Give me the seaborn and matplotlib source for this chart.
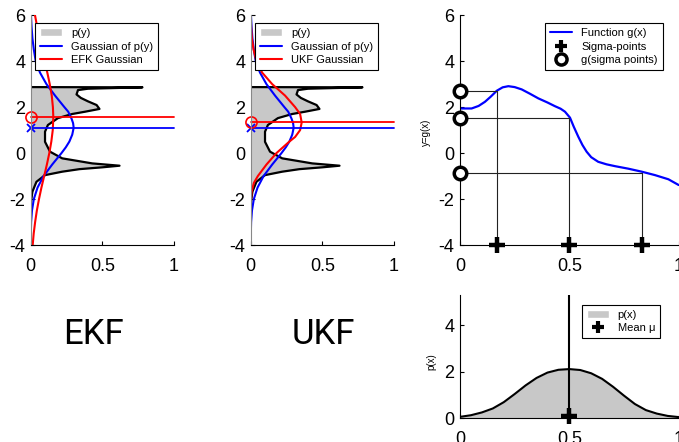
import numpy as np
import pandas as pd
import matplotlib
matplotlib.use('Agg')
import matplotlib.pyplot as plt
import seaborn as sns
from matplotlib.lines import Line2D
from matplotlib.patches import Patch

# p(y): density of y = g(x), outline (y, density)
py_y = [2.87, 2.86, 2.80, 2.74, 2.55, 2.40, 2.25, 2.09, 1.92, 1.80, 1.70, 1.52, 1.22,
        0.93, 0.49, 0.06, -0.23, -0.45, -0.55, -0.62, -0.70, -0.81, -0.96, -1.25,
        -1.68, -2.00, -2.30]
py_dens = [0.0, 0.78, 0.40, 0.33, 0.32, 0.35, 0.40, 0.46, 0.48, 0.38, 0.29, 0.19, 0.12,
           0.10, 0.10, 0.135, 0.22, 0.43, 0.62, 0.50, 0.34, 0.22, 0.10, 0.04,
           0.012, 0.005, 0.0]

# Gaussian fitted to p(y) (blue)
gauss_mean = 1.1
gauss_y = [6.0, 5.5, 5.0, 4.5, 4.0, 3.5, 3.0, 2.5, 2.0, 1.8, 1.5, 1.3, 1.1, 0.8, 0.5,
           0.25, 0.0, -0.5, -1.0, -1.5, -2.0, -2.5, -3.0, -3.5, -4.0]
gauss_dens = [0.002, 0.006, 0.012, 0.022, 0.035, 0.065, 0.11, 0.17, 0.235, 0.262, 0.285,
              0.296, 0.30, 0.29, 0.27, 0.245, 0.215, 0.15, 0.09, 0.048, 0.022, 0.009,
              0.003, 0.001, 0.0]

# EKF Gaussian (red, left panel)
ekf_mean = 1.55
ekf_y = [6.0, 5.5, 5.0, 4.5, 4.0, 3.5, 3.0, 2.5, 2.0, 1.55, 1.0, 0.5, 0.0, -0.5, -1.0,
         -1.5, -2.0, -2.5, -3.0, -3.5, -4.0]
ekf_dens = [0.030, 0.045, 0.060, 0.078, 0.097, 0.116, 0.133, 0.147, 0.155, 0.158, 0.154,
            0.144, 0.130, 0.113, 0.094, 0.075, 0.058, 0.043, 0.031, 0.021, 0.014]

# UKF Gaussian (red, middle panel)
ukf_mean = 1.33
ukf_y = [6.0, 5.5, 5.0, 4.5, 4.0, 3.5, 3.0, 2.5, 2.0, 1.7, 1.33, 1.0, 0.7, 0.5, 0.25,
         0.0, -0.5, -1.0, -1.3, -1.7, -2.2, -3.0, -4.0]
ukf_dens = [0.0, 0.003, 0.008, 0.02, 0.04, 0.08, 0.15, 0.24, 0.31, 0.345, 0.356, 0.345,
            0.31, 0.27, 0.225, 0.18, 0.11, 0.05, 0.022, 0.006, 0.001, 0.0, 0.0]

# non-linear function g(x)
g_x = [0.0, 0.053, 0.085, 0.114, 0.14, 0.168, 0.195, 0.221, 0.25, 0.282, 0.32, 0.358,
       0.40, 0.434, 0.46, 0.48, 0.503, 0.52, 0.541, 0.56, 0.579, 0.60, 0.632, 0.67,
       0.709, 0.77, 0.831, 0.892, 0.953, 1.0]
g_y = [1.94, 1.94, 2.05, 2.23, 2.45, 2.71, 2.86, 2.91, 2.87, 2.77, 2.58, 2.38, 2.20,
       2.04, 1.93, 1.80, 1.54, 1.15, 0.71, 0.35, 0.06, -0.18, -0.38, -0.49, -0.57,
       -0.68, -0.81, -0.96, -1.14, -1.39]

sigma_x = [0.171, 0.5, 0.834]
sigma_g = [2.71, 1.52, -0.86]

# p(x)
mean_x = 0.5
px_x = [0.0, 0.05, 0.1, 0.15, 0.2, 0.25, 0.3, 0.35, 0.4, 0.45, 0.5, 0.55, 0.6, 0.65,
        0.7, 0.75, 0.8, 0.85, 0.9, 0.95, 1.0]
px_dens = [0.07, 0.14, 0.26, 0.43, 0.70, 1.05, 1.42, 1.74, 1.97, 2.09, 2.12, 2.08, 1.94,
           1.70, 1.36, 0.98, 0.62, 0.36, 0.21, 0.11, 0.06]

ticks_y = [-4, -2, 0, 2, 4, 6]
ticks_x = [0, 0.5, 1]
tick_lbl_x = ['0', '0.5', '1']

sns.set_style('ticks')
plt.rcParams['font.family'] = ['Liberation Sans', 'DejaVu Sans']
plt.rcParams['axes.unicode_minus'] = False
plt.rcParams['text.color'] = 'black'
plt.rcParams['axes.edgecolor'] = 'black'
plt.rcParams['xtick.color'] = 'black'
plt.rcParams['ytick.color'] = 'black'
plt.rcParams['axes.labelcolor'] = 'black'

fill_col = '#c8c8c8'

fig = plt.figure(figsize=(6.79, 4.42), dpi=100)
ax1 = fig.add_axes([0.0452, 0.4457, 0.211, 0.520])
ax2 = fig.add_axes([0.3692, 0.4457, 0.211, 0.520])
ax3 = fig.add_axes([0.6775, 0.4457, 0.322, 0.520])
ax4 = fig.add_axes([0.6775, 0.0532, 0.322, 0.2794])


def style_axes(ax, ylim, yticks):
    ax.set_xlim(0, 1)
    ax.set_ylim(*ylim)
    ax.set_xticks(ticks_x)
    ax.set_xticklabels(tick_lbl_x)
    ax.set_yticks(yticks)
    ax.set_yticklabels([str(t) for t in yticks])
    ax.tick_params(direction='in', length=3, width=0.8, labelsize=13, pad=4)
    ax.tick_params(axis='x', pad=9)
    sns.despine(ax=ax)
    ax.spines['left'].set_linewidth(0.8)
    ax.spines['bottom'].set_linewidth(0.8)
    ax.set_xlabel('')
    ax.set_ylabel('')


def leg(ax, handles, anchor):
    lg = ax.legend(handles=handles, loc='upper left', bbox_to_anchor=anchor,
                   fontsize=8, fancybox=False, framealpha=1, edgecolor='black',
                   borderpad=0.45, labelspacing=0.3, handletextpad=0.8,
                   borderaxespad=0, handlelength=2.0)
    lg.get_frame().set_linewidth(0.8)


def py_panel(ax, f_y, f_dens, f_mean, f_label):
    ax.fill_betweenx(py_y, 0, py_dens, color=fill_col, lw=0)
    sns.lineplot(x=py_dens, y=py_y, sort=False, estimator=None, color='black', lw=1.6, ax=ax)
    sns.lineplot(x=gauss_dens, y=gauss_y, sort=False, estimator=None, color='blue', lw=1.5, ax=ax)
    sns.lineplot(x=f_dens, y=f_y, sort=False, estimator=None, color='red', lw=1.5, ax=ax)
    ax.axhline(gauss_mean, color='blue', lw=1.3, clip_on=False)
    ax.axhline(f_mean, color='red', lw=1.3, clip_on=False)
    ax.plot([0], [gauss_mean], marker='x', color='blue', ms=6, mew=1.3, clip_on=False)
    ax.plot([0], [f_mean], marker='o', mfc='none', mec='red', ms=8, mew=1.2, clip_on=False)
    style_axes(ax, (-4, 6), ticks_y)
    ax.spines['left'].set_color('#888888')
    leg(ax, [Patch(facecolor=fill_col, label='p(y)'),
             Line2D([], [], color='blue', lw=1.5, label='Gaussian of p(y)'),
             Line2D([], [], color='red', lw=1.5, label=f_label)], (0.03, 0.965))


py_panel(ax1, ekf_y, ekf_dens, ekf_mean, 'EFK Gaussian')
py_panel(ax2, ukf_y, ukf_dens, ukf_mean, 'UKF Gaussian')

# g(x) with sigma points
sns.lineplot(x=g_x, y=g_y, sort=False, estimator=None, color='blue', lw=1.6, ax=ax3)
for xs, gs in zip(sigma_x, sigma_g):
    ax3.plot([xs, xs], [-4, gs], color='#222222', lw=0.8)
    ax3.plot([0, xs], [gs, gs], color='#222222', lw=0.8)
ax3.plot(sigma_x, [-4] * len(sigma_x), ls='none', marker='+', color='black', ms=11,
         mew=3.2, clip_on=False, zorder=5)
ax3.plot([0] * len(sigma_g), sigma_g, ls='none', marker='o', mfc='white', mec='black',
         ms=9, mew=2.5, clip_on=False, zorder=5)
style_axes(ax3, (-4, 6), ticks_y)
ax3.set_ylabel('y=g(x)', fontsize=7)
ax3.yaxis.set_label_coords(-0.133, 0.49)
leg(ax3, [Line2D([], [], color='blue', lw=1.5, label='Function g(x)'),
          Line2D([], [], ls='none', marker='+', color='black', ms=9, mew=3, label='Sigma-points'),
          Line2D([], [], ls='none', marker='o', mfc='white', mec='black', ms=8, mew=2.5,
                 label='g(sigma points)')], (0.389, 0.965))

# p(x)
ax4.fill_between(px_x, 0, px_dens, color=fill_col, lw=0)
sns.lineplot(x=px_x, y=px_dens, sort=False, estimator=None, color='black', lw=1.5, ax=ax4)
ax4.axvline(mean_x, color='black', lw=1.5)
ax4.plot([mean_x], [0.1], ls='none', marker='+', color='black', ms=11, mew=3.2,
         clip_on=False, zorder=5)
style_axes(ax4, (0, 5.3), [0, 2, 4])
ax4.set_ylabel('p(x)', fontsize=7)
ax4.yaxis.set_label_coords(-0.11, 0.46)
leg(ax4, [Patch(facecolor=fill_col, label='p(x)'),
          Line2D([], [], ls='none', marker='+', color='black', ms=9, mew=3, label='Mean μ')],
    (0.556, 0.919))

narrow = ['Roboto', 'Liberation Sans', 'DejaVu Sans']
fig.text(93 / 679, 1 - 334 / 442, 'EKF', ha='center', va='center', fontsize=25,
         family=narrow, color='black')
fig.text(323 / 679, 1 - 334 / 442, 'UKF', ha='center', va='center', fontsize=25,
         family=narrow, color='black')

fig.savefig('out.png', dpi=100)
